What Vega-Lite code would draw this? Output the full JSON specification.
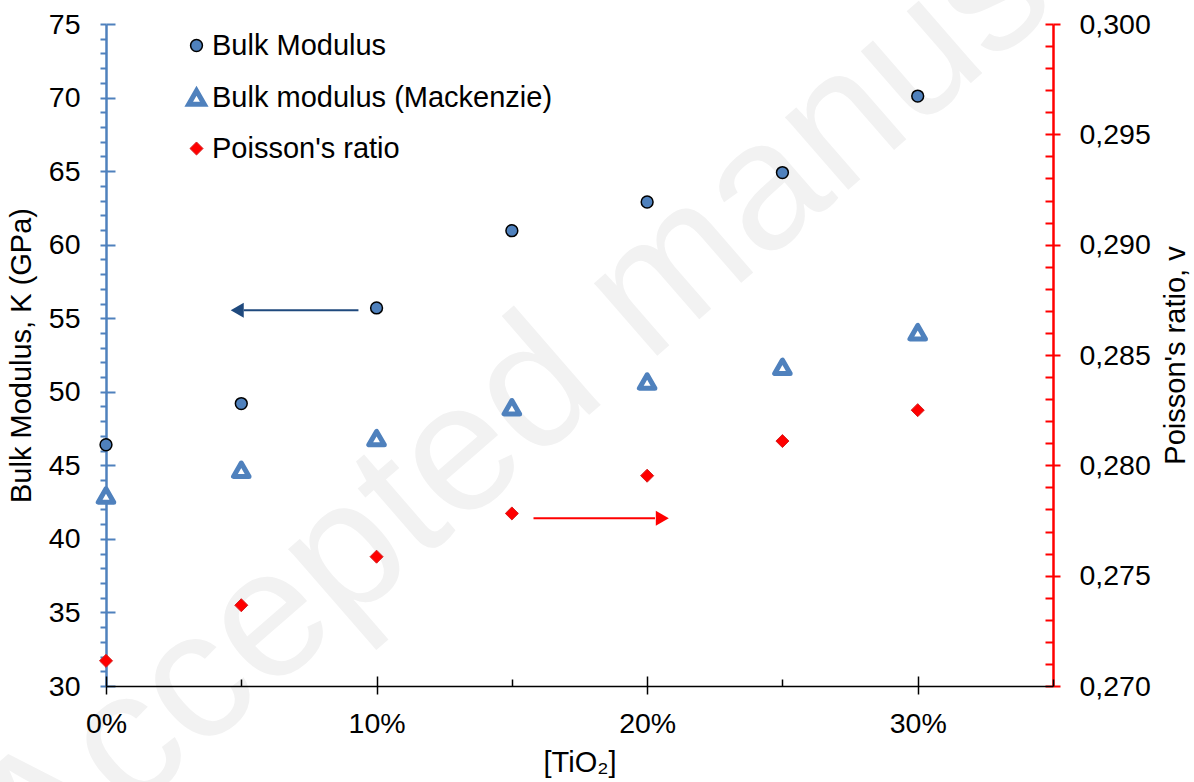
{
  "$schema": "https://vega.github.io/schema/vega-lite/v6.json",
  "width": 947,
  "height": 662,
  "autosize": {"type": "none"},
  "padding": {"left": 106, "top": 24, "right": 141, "bottom": 96},
  "background": "white",
  "config": {
    "view": {"stroke": null},
    "font": "Liberation Sans",
    "axis": {"grid": false, "labelFont": "Liberation Sans", "titleFont": "Liberation Sans", "labelColor": "black", "titleColor": "black", "titleFontWeight": "normal", "labelFontSize": 28.5, "titleFontSize": 29, "labelOverlap": false, "labelBound": false, "labelFlush": false},
    "legend": {"labelFont": "Liberation Sans", "labelFontSize": 29, "labelColor": "black", "padding": 0, "labelLimit": 0}
  },
  "datasets": {
    "points": [
      {"series": "Bulk Modulus", "pct": 0.00, "value": 46.4},
      {"series": "Bulk Modulus", "pct": 0.05, "value": 49.2},
      {"series": "Bulk Modulus", "pct": 0.10, "value": 55.7},
      {"series": "Bulk Modulus", "pct": 0.15, "value": 60.95},
      {"series": "Bulk Modulus", "pct": 0.20, "value": 62.9},
      {"series": "Bulk Modulus", "pct": 0.25, "value": 64.9},
      {"series": "Bulk Modulus", "pct": 0.30, "value": 70.1},
      {"series": "Bulk modulus (Mackenzie)", "pct": 0.00, "value": 42.95},
      {"series": "Bulk modulus (Mackenzie)", "pct": 0.05, "value": 44.7},
      {"series": "Bulk modulus (Mackenzie)", "pct": 0.10, "value": 46.85},
      {"series": "Bulk modulus (Mackenzie)", "pct": 0.15, "value": 48.95},
      {"series": "Bulk modulus (Mackenzie)", "pct": 0.20, "value": 50.7},
      {"series": "Bulk modulus (Mackenzie)", "pct": 0.25, "value": 51.7},
      {"series": "Bulk modulus (Mackenzie)", "pct": 0.30, "value": 54.05},
      {"series": "Poisson's ratio", "pct": 0.00, "value": 0.27114},
      {"series": "Poisson's ratio", "pct": 0.05, "value": 0.27366},
      {"series": "Poisson's ratio", "pct": 0.10, "value": 0.27586},
      {"series": "Poisson's ratio", "pct": 0.15, "value": 0.27782},
      {"series": "Poisson's ratio", "pct": 0.20, "value": 0.27953},
      {"series": "Poisson's ratio", "pct": 0.25, "value": 0.2811},
      {"series": "Poisson's ratio", "pct": 0.30, "value": 0.2825}
    ],
    "arrows": [
      {"arrow": "K", "x1": 0.0933, "x2": 0.0509, "head": 0.0485, "y": 55.55},
      {"arrow": "v", "x1": 0.158, "x2": 0.2029, "head": 0.2056, "y": 0.2776}
    ],
    "watermark": [{"text": "Accepted manuscript"}]
  },
  "layer": [
    {
      "data": {"name": "watermark"},
      "mark": {"type": "text", "angle": 319, "align": "left", "baseline": "alphabetic", "fontSize": 182, "color": "#f2f2f2", "font": "Liberation Sans"},
      "encoding": {
        "x": {"datum": -0.0255, "type": "quantitative", "scale": {"domain": [0, 0.35], "nice": false}, "axis": null},
        "y": {"datum": 15.8, "type": "quantitative", "scale": {"domain": [30, 75], "nice": false, "zero": false}, "axis": null},
        "text": {"field": "text"}
      }
    },
    {
      "data": {"name": "points"},
      "transform": [{"filter": "datum.series === 'Bulk Modulus'"}],
      "mark": {"type": "point", "filled": true, "opacity": 1},
      "encoding": {
        "x": {"field": "pct", "type": "quantitative", "scale": {"domain": [0, 0.35], "nice": false},
          "axis": {"orient": "bottom", "values": [0, 0.1, 0.2, 0.3], "format": ".0%", "tickSize": 8, "tickColor": "black", "tickWidth": 1.5, "domainColor": "black", "domainWidth": 1.5, "labelPadding": 15, "title": "[TiO₂]", "titlePadding": 11, "zindex": 1}},
        "y": {"field": "value", "type": "quantitative", "scale": {"domain": [30, 75], "nice": false, "zero": false},
          "axis": {"orient": "left", "values": [30,31,32,33,34,35,36,37,38,39,40,41,42,43,44,45,46,47,48,49,50,51,52,53,54,55,56,57,58,59,60,61,62,63,64,65,66,67,68,69,70,71,72,73,74,75], "labelExpr": "datum.value % 5 === 0 ? datum.label : ''", "tickSize": 6, "tickColor": "#4F81BD", "tickWidth": 2, "domainColor": "#4F81BD", "domainWidth": 2.5, "labelPadding": 20, "title": "Bulk Modulus, K (GPa)", "titlePadding": 12}},
        "shape": {"field": "series", "type": "nominal", "scale": {"domain": ["Bulk Modulus", "Bulk modulus (Mackenzie)", "Poisson's ratio"], "range": ["circle", "triangle-up", "diamond"]},
          "legend": {"title": null, "orient": "none", "legendX": 76, "legendY": 7, "rowPadding": 19, "labelOffset": 1, "direction": "vertical", "labelLimit": 0}},
        "fill": {"field": "series", "type": "nominal", "scale": {"domain": ["Bulk Modulus", "Bulk modulus (Mackenzie)", "Poisson's ratio"], "range": ["#4F81BD", "#ffffff", "#FF0000"]}},
        "stroke": {"field": "series", "type": "nominal", "scale": {"domain": ["Bulk Modulus", "Bulk modulus (Mackenzie)", "Poisson's ratio"], "range": ["#000000", "#4F81BD", "#D42020"]}},
        "size": {"field": "series", "type": "nominal", "scale": {"type": "ordinal", "domain": ["Bulk Modulus", "Bulk modulus (Mackenzie)", "Poisson's ratio"], "range": [140, 240, 170]}},
        "strokeWidth": {"field": "series", "type": "nominal", "scale": {"type": "ordinal", "domain": ["Bulk Modulus", "Bulk modulus (Mackenzie)", "Poisson's ratio"], "range": [1.5, 5, 1]}}
      }
    },
    {
      "data": {"name": "points"},
      "transform": [{"filter": "datum.series === 'Bulk modulus (Mackenzie)'"}],
      "mark": {"type": "point", "filled": true, "opacity": 1, "strokeJoin": "round"},
      "encoding": {
        "x": {"field": "pct", "type": "quantitative", "scale": {"domain": [0, 0.35], "nice": false},
          "axis": {"orient": "bottom", "values": [0, 0.05, 0.1, 0.15, 0.2, 0.25, 0.3, 0.35], "labels": false, "domain": false, "title": null, "tickColor": "black", "tickWidth": 1.5, "tickSize": {"condition": {"test": "round(datum.value*100) % 10 === 0", "value": -10}, "value": -7}, "zindex": 1}},
        "y": {"field": "value", "type": "quantitative", "scale": {"domain": [30, 75], "nice": false, "zero": false},
          "axis": {"orient": "left", "values": [30, 35, 40, 45, 50, 55, 60, 65, 70, 75], "labels": false, "domain": false, "title": null, "tickColor": "#4F81BD", "tickWidth": 2, "tickSize": -9}},
        "shape": {"field": "series", "type": "nominal", "scale": {"domain": ["Bulk Modulus", "Bulk modulus (Mackenzie)", "Poisson's ratio"], "range": ["circle", "triangle-up", "diamond"]}},
        "fill": {"field": "series", "type": "nominal", "scale": {"domain": ["Bulk Modulus", "Bulk modulus (Mackenzie)", "Poisson's ratio"], "range": ["#4F81BD", "#ffffff", "#FF0000"]}},
        "stroke": {"field": "series", "type": "nominal", "scale": {"domain": ["Bulk Modulus", "Bulk modulus (Mackenzie)", "Poisson's ratio"], "range": ["#000000", "#4F81BD", "#D42020"]}},
        "size": {"field": "series", "type": "nominal", "scale": {"type": "ordinal", "domain": ["Bulk Modulus", "Bulk modulus (Mackenzie)", "Poisson's ratio"], "range": [140, 240, 170]}},
        "strokeWidth": {"field": "series", "type": "nominal", "scale": {"type": "ordinal", "domain": ["Bulk Modulus", "Bulk modulus (Mackenzie)", "Poisson's ratio"], "range": [1.5, 5, 1]}}
      }
    },
    {
      "data": {"name": "points"},
      "transform": [{"filter": "datum.series === \"Poisson's ratio\""}],
      "mark": {"type": "point", "filled": true, "opacity": 1},
      "encoding": {
        "x": {"field": "pct", "type": "quantitative", "scale": {"domain": [0, 0.35], "nice": false}, "axis": null},
        "y": {"field": "value", "type": "quantitative", "scale": {"domain": [0.27, 0.3], "nice": false, "zero": false},
          "axis": {"orient": "right", "values": [0.27, 0.275, 0.28, 0.285, 0.29, 0.295, 0.3], "labelExpr": "replace(format(datum.value, '.3f'), '.', ',')", "tickSize": 7, "tickColor": "#FF0000", "tickWidth": 2, "domainColor": "#FF0000", "domainWidth": 2.5, "labelPadding": 19, "title": "Poisson's ratio, v", "titleAngle": 270, "titleBaseline": "top", "titlePadding": 11}},
        "shape": {"field": "series", "type": "nominal", "scale": {"domain": ["Bulk Modulus", "Bulk modulus (Mackenzie)", "Poisson's ratio"], "range": ["circle", "triangle-up", "diamond"]}},
        "fill": {"field": "series", "type": "nominal", "scale": {"domain": ["Bulk Modulus", "Bulk modulus (Mackenzie)", "Poisson's ratio"], "range": ["#4F81BD", "#ffffff", "#FF0000"]}},
        "stroke": {"field": "series", "type": "nominal", "scale": {"domain": ["Bulk Modulus", "Bulk modulus (Mackenzie)", "Poisson's ratio"], "range": ["#000000", "#4F81BD", "#D42020"]}},
        "size": {"field": "series", "type": "nominal", "scale": {"type": "ordinal", "domain": ["Bulk Modulus", "Bulk modulus (Mackenzie)", "Poisson's ratio"], "range": [140, 240, 170]}},
        "strokeWidth": {"field": "series", "type": "nominal", "scale": {"type": "ordinal", "domain": ["Bulk Modulus", "Bulk modulus (Mackenzie)", "Poisson's ratio"], "range": [1.5, 5, 1]}}
      }
    },
    {
      "data": {"name": "arrows"},
      "transform": [{"filter": "datum.arrow === 'v'"}],
      "mark": {"type": "rule", "color": "#FF0000", "strokeWidth": 2},
      "encoding": {
        "x": {"field": "x1", "type": "quantitative", "scale": {"domain": [0, 0.35], "nice": false}, "axis": null},
        "x2": {"field": "x2"},
        "y": {"field": "y", "type": "quantitative", "scale": {"domain": [0.27, 0.3], "nice": false, "zero": false},
          "axis": {"orient": "right", "values": [0.27,0.271,0.272,0.273,0.274,0.275,0.276,0.277,0.278,0.279,0.28,0.281,0.282,0.283,0.284,0.285,0.286,0.287,0.288,0.289,0.29,0.291,0.292,0.293,0.294,0.295,0.296,0.297,0.298,0.299,0.3], "labels": false, "domain": false, "title": null, "tickSize": -8, "tickColor": "#FF0000", "tickWidth": 2}}
      }
    },
    {
      "data": {"name": "arrows"},
      "transform": [{"filter": "datum.arrow === 'v'"}],
      "mark": {"type": "point", "shape": "triangle-right", "filled": true, "opacity": 1, "color": "#FF0000", "size": 225, "strokeWidth": 0},
      "encoding": {
        "x": {"field": "head", "type": "quantitative", "scale": {"domain": [0, 0.35], "nice": false}, "axis": null},
        "y": {"field": "y", "type": "quantitative", "scale": {"domain": [0.27, 0.3], "nice": false, "zero": false}, "axis": null}
      }
    },
    {
      "data": {"name": "arrows"},
      "transform": [{"filter": "datum.arrow === 'K'"}],
      "mark": {"type": "rule", "color": "#1F497D", "strokeWidth": 2},
      "encoding": {
        "x": {"field": "x1", "type": "quantitative", "scale": {"domain": [0, 0.35], "nice": false}, "axis": null},
        "x2": {"field": "x2"},
        "y": {"field": "y", "type": "quantitative", "scale": {"domain": [30, 75], "nice": false, "zero": false}, "axis": null}
      }
    },
    {
      "data": {"name": "arrows"},
      "transform": [{"filter": "datum.arrow === 'K'"}],
      "mark": {"type": "point", "shape": "triangle-left", "filled": true, "opacity": 1, "color": "#1F497D", "size": 225, "strokeWidth": 0},
      "encoding": {
        "x": {"field": "head", "type": "quantitative", "scale": {"domain": [0, 0.35], "nice": false}, "axis": null},
        "y": {"field": "y", "type": "quantitative", "scale": {"domain": [30, 75], "nice": false, "zero": false}, "axis": null}
      }
    }
  ],
  "resolve": {"scale": {"y": "independent"}, "axis": {"x": "independent", "y": "independent"}}
}
